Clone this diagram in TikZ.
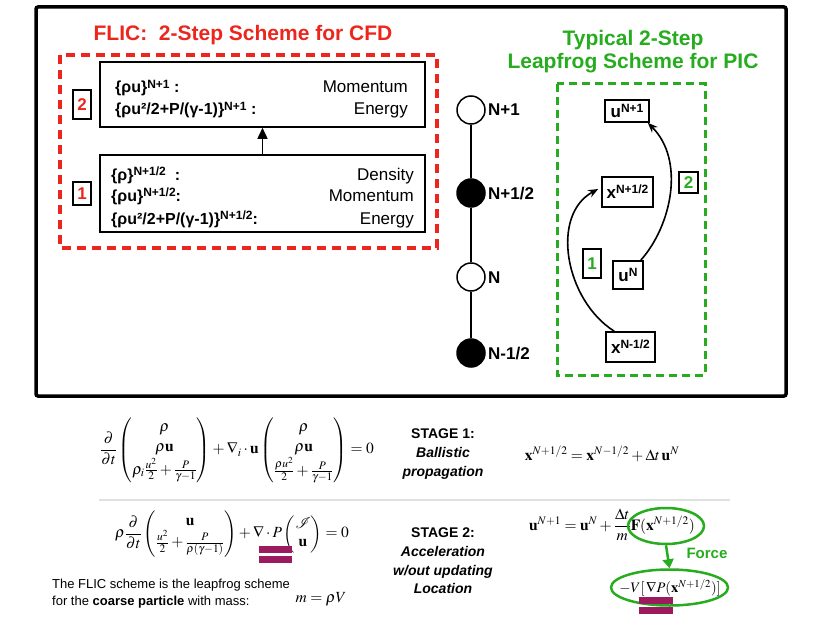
\documentclass[tikz,border=0pt]{standalone}
\usepackage{amsmath}
\usepackage{mathptmx}
\usepackage[no-math]{fontspec}
\setmainfont{Liberation Sans}
\usetikzlibrary{arrows.meta,shapes.geometric}
\definecolor{flicred}{RGB}{236,38,28}
\definecolor{picgreen}{RGB}{38,172,30}
\definecolor{barpurple}{RGB}{155,27,94}
\newcommand\sps[1]{\raisebox{0.3em}{\fontsize{12}{12}\selectfont #1}}
\tikzset{
 outerframe/.style={line width=3.5pt, rounded corners=2pt},
 reddash/.style={draw=flicred, line width=3.5pt, dash pattern=on 9pt off 6pt},
 greendash/.style={draw=picgreen, line width=3pt, dash pattern=on 8pt off 5pt},
 eqbox/.style={draw, line width=1.6pt, inner sep=0pt},
 lbl/.style={font=\fontsize{16}{18}\selectfont\bfseries, inner sep=0pt, anchor=base west},
 rlbl/.style={font=\fontsize{17}{18}\selectfont, inner sep=0pt, anchor=base east},
 stepnum/.style={draw, line width=1.6pt, inner sep=0pt, font=\fontsize{17}{18}\selectfont\bfseries},
 tnode/.style={circle, draw, line width=1.5pt, minimum size=28pt, inner sep=0pt},
 tlbl/.style={font=\fontsize{17}{18}\selectfont\bfseries, inner sep=0pt, anchor=base west},
 pbox/.style={draw, line width=1.6pt, inner sep=0pt, font=\fontsize{17}{18}\selectfont\bfseries},
 arr/.style={-{Stealth[length=10pt,width=8pt]}, line width=1.6pt},
 stagelbl/.style={font=\fontsize{14}{18.7}\selectfont\bfseries, align=center, inner sep=0pt},
 purplebar/.style={fill=barpurple, draw=none},
 gell/.style={ellipse, draw=picgreen, line width=2.5pt, inner sep=0pt},
 mathtxt/.style={font=\fontsize{15.5}{18}\selectfont, inner sep=0pt},
 titlered/.style={font=\fontsize{21}{23}\selectfont\bfseries, text=flicred, inner sep=0pt},
 titlegreen/.style={font=\fontsize{21}{23}\selectfont\bfseries, text=picgreen, inner sep=0pt},
}
\begin{document}
\begin{tikzpicture}[x=1pt,y=-1pt]
\useasboundingbox (0,0) rectangle (830,623);
% outer frame
\draw[outerframe] (36,7) rectangle (786,396);

% ---------- left panel ----------
\node[titlered] (ftitle) at (243,35) {FLIC:\ \ 2-Step Scheme for CFD};
\draw[reddash] (60,55) rectangle (437,248);
\node[eqbox, minimum width=325pt, minimum height=65pt] (b2) at (262.5,94.5) {};
\node[eqbox, minimum width=325pt, minimum height=77pt] (b1) at (262.5,193.5) {};
\draw[-{Triangle[length=11pt,width=10pt]}, line width=1.6pt] (b1.north) -- (b2.south);
\node[stepnum, text=flicred, minimum width=18pt, minimum height=29pt] (s2) at (82,104.5) {2};
\node[stepnum, text=flicred, minimum width=18pt, minimum height=23pt] (s1) at (82,193.5) {1};

\node[lbl] (l21) at (115,93) {\{ρu\}\sps{N+1} :};
\node[lbl] (l22) at (115,115) {\{ρu²/2+P/(γ-1)\}\sps{N+1} :};
\node[rlbl] (r21) at (408,93) {Momentum};
\node[rlbl] (r22) at (408,115) {Energy};
\node[lbl] (l11) at (111,180) {\{ρ\}\sps{N+1/2}\ \ :};
\node[lbl] (l12) at (111,201) {\{ρu\}\sps{N+1/2}:};
\node[lbl] (l13) at (111,224) {\{ρu²/2+P/(γ-1)\}\sps{N+1/2}:};
\node[rlbl] (r11) at (414,180) {Density};
\node[rlbl] (r12) at (414,201) {Momentum};
\node[rlbl] (r13) at (414,224) {Energy};

% ---------- timeline ----------
\node[tnode, fill=white] (t1) at (471,110) {};
\node[tnode, fill=black] (t2) at (471,193) {};
\node[tnode, fill=white] (t3) at (471,277) {};
\node[tnode, fill=black] (t4) at (471,353) {};
\draw[line width=1.5pt] (t1) -- (t2) (t2) -- (t3) (t3) -- (t4);
\node[tlbl] (tl1) at (488,116) {N+1};
\node[tlbl] (tl2) at (488,199) {N+1/2};
\node[tlbl] (tl3) at (488,283) {N};
\node[tlbl] (tl4) at (488,359) {N-1/2};

% ---------- right panel ----------
\node[titlegreen] (gt1) at (633,40) {Typical 2-Step};
\node[titlegreen] (gt2) at (633,63) {Leapfrog Scheme for PIC};
\draw[greendash] (557,84) rectangle (705,375);
\node[pbox, minimum width=44pt, minimum height=22pt] (un1) at (627,111) {u\sps{N+1}};
\node[pbox, minimum width=51pt, minimum height=30pt] (xp) at (627.5,192) {x\sps{N+1/2}};
\node[pbox, minimum width=30pt, minimum height=28pt] (un) at (628,275) {u\sps{N}};
\node[pbox, minimum width=49pt, minimum height=30pt] (xm) at (630.5,347) {x\sps{N-1/2}};
\draw[arr] ([xshift=9pt]xm.north west) .. controls (565,300) and (550,215) .. ([xshift=-3pt,yshift=3pt]xp.west);
\draw[arr] ([xshift=-3pt]un.north east) .. controls (672,225) and (685,160) .. ([xshift=-2pt]un1.south east);
\node[stepnum, text=picgreen, minimum width=18pt, minimum height=29pt] (g1) at (592,263.5) {1};
\node[stepnum, text=picgreen, minimum width=19pt, minimum height=21pt] (g2) at (688.5,182.5) {2};

% ---------- bottom ----------
\node[mathtxt] (eqa) at (237,450) {\renewcommand\arraystretch{1.12}$\displaystyle \frac{\partial}{\partial t}\begin{pmatrix}\rho\\ \rho\mathbf{u}\\ \rho_i\frac{u^2}{2}+\frac{P}{\gamma-1}\end{pmatrix}+\nabla_i\cdot\mathbf{u}\begin{pmatrix}\rho\\ \rho\mathbf{u}\\ \frac{\rho u^2}{2}+\frac{P}{\gamma-1}\end{pmatrix}=0$};
\node[stagelbl] (st1) at (443,454) {STAGE 1:\\\itshape Ballistic\\\itshape propagation};
\node[mathtxt] (eqx) at (602,454) {$\mathbf{x}^{N+1/2}=\mathbf{x}^{N-1/2}+\Delta t\,\mathbf{u}^{N}$};
\draw[black!12, line width=1.5pt] (99,500) -- (730,500);

\node[mathtxt] (eqb) at (232,534) {$\displaystyle\rho\frac{\partial}{\partial t}\begin{pmatrix}\mathbf{u}\\ \frac{u^2}{2}+\frac{P}{\rho(\gamma-1)}\end{pmatrix}+\nabla\cdot P\begin{pmatrix}\mathcal{I}\\ \mathbf{u}\end{pmatrix}=0$};
\fill[purplebar] (259,546) rectangle (292,553);
\fill[purplebar] (259,556) rectangle (292,563);
\node[font=\fontsize{13}{17}\selectfont, inner sep=0pt, anchor=base west] (fl1) at (52,588) {The FLIC scheme is the leapfrog scheme};
\node[font=\fontsize{13}{17}\selectfont, inner sep=0pt, anchor=base west] (fl2) at (52,605) {for the \textbf{coarse particle} with mass:};
\node[mathtxt] (mass) at (321,599) {$m=\rho V$};

\node[stagelbl] (st2) at (443,561) {STAGE 2:\\\itshape Acceleration\\\itshape w/out updating\\\itshape Location};
\node[mathtxt] (equ) at (612,525) {$\mathbf{u}^{N+1}=\mathbf{u}^{N}+\dfrac{\Delta t}{m}\mathbf{F}(\mathbf{x}^{N+1/2})$};
\node[gell, minimum width=76pt, minimum height=36pt] (f1) at (666,526) {};
\node[gell, minimum width=117pt, minimum height=36pt] (f2) at (669.5,587.5) {};
\node[mathtxt, font=\fontsize{14.5}{17}\selectfont] (f2t) at (670,588) {$-V[\,\nabla P(\mathbf{x}^{N+1/2})]$};
\draw[-{Triangle[length=9pt,width=11pt]}, draw=picgreen, fill=picgreen, line width=2.5pt] (f1.south) -- (f2.north);
\node[font=\fontsize{15}{16}\selectfont\bfseries, text=picgreen, inner sep=0pt] (force) at (707,553) {Force};
\fill[purplebar] (639,597) rectangle (673,604);
\fill[purplebar] (639,607) rectangle (673,614);
\end{tikzpicture}
\end{document}
